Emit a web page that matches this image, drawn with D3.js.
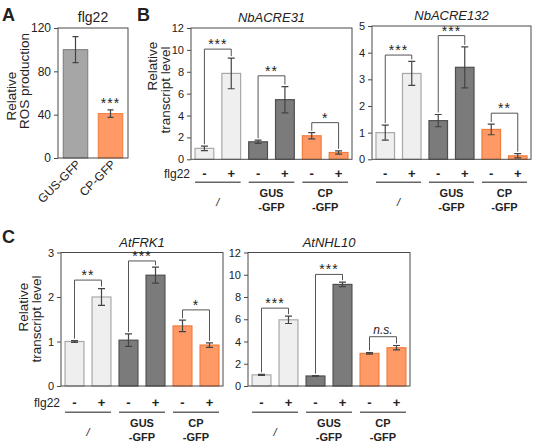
<!DOCTYPE html>
<html><head><meta charset="utf-8">
<script src="https://cdn.jsdelivr.net/npm/d3@7"></script>
<style>
body{margin:0;background:#fff}
svg{display:block}
text{font-family:"Liberation Sans",Arial,sans-serif;fill:#222}
</style>
</head><body>
<svg id="c" width="533" height="442"></svg>
<script>
// ---------- DATA ----------
const rosCategories = ["GUS-GFP", "CP-GFP"];
const rosValues = [100, 41];
const rosErrors = [12, 3.5];
const rosTicks = [0, 40, 80, 120];
const rosTitle = "flg22";

const treatments = ["-", "+", "-", "+", "-", "+"];
const barGroups = [0, 0, 1, 1, 2, 2];
const groupLabels = [["/"], ["GUS", "-GFP"], ["CP", "-GFP"]];

const nbacre31Values = [1.0, 7.85, 1.6, 5.45, 2.15, 0.62];
const nbacre31Errors = [0.2, 1.4, 0.15, 1.2, 0.28, 0.15];
const nbacre31Ticks = [0, 2, 4, 6, 8, 10, 12];
const nbacre31Sig = ["***", "**", "*"];
const nbacre31SigLevel = [10.07, 7.63, 3.35];

const nbacre132Values = [1.0, 3.22, 1.45, 3.45, 1.12, 0.13];
const nbacre132Errors = [0.28, 0.45, 0.23, 0.77, 0.2, 0.08];
const nbacre132Ticks = [0, 1, 2, 3, 4, 5];
const nbacre132Sig = ["***", "***", "**"];
const nbacre132SigLevel = [3.91, 4.64, 1.73];

const frk1Values = [1.0, 2.0, 1.03, 2.49, 1.35, 0.92];
const frk1Errors = [0.02, 0.19, 0.14, 0.18, 0.13, 0.05];
const frk1Ticks = [0, 1, 2, 3];
const frk1Sig = ["**", "***", "*"];
const frk1SigLevel = [2.38, 2.81, 1.71];

const nhl10Values = [1.0, 5.95, 0.9, 9.13, 2.93, 3.44];
const nhl10Errors = [0.05, 0.33, 0.03, 0.2, 0.07, 0.2];
const nhl10Ticks = [0, 2, 4, 6, 8, 10, 12];
const nhl10Sig = ["***", "***", "n.s."];
const nhl10SigLevel = [7.0, 10.03, 4.43];

// ---------- STYLE ----------
const groupFill = ["#efefef", "#7b7b7b", "#ff9a66"];
const groupStroke = ["#a8a8a8", "#4f4f4f", "#ef7d3e"];
const frameColor = "#4a4a4a";
const errColor = "#444";
const bracketColor = "#555";

const svg = d3.select("#c");

function yAxis(g, y, ticks, fs) {
  const ax = d3.axisLeft(y).tickValues(ticks).tickFormat(d3.format("d"))
    .tickSize(4).tickSizeOuter(0).tickPadding(3);
  g.call(ax);
  g.select(".domain").remove();
  g.selectAll(".tick line").attr("stroke", frameColor);
  g.selectAll(".tick text").attr("font-size", fs).attr("fill", "#222")
    .style("font-family", '"Liberation Sans",Arial,sans-serif');
}

function errorBars(g, x, y, values, errors, halfCap) {
  values.forEach((v, i) => {
    const cx = x(i) + x.bandwidth() / 2;
    const e = errors[i];
    const path = `M${cx - halfCap},${y(v + e)}H${cx + halfCap}M${cx},${y(v + e)}V${y(v - e)}M${cx - halfCap},${y(v - e)}H${cx + halfCap}`;
    g.append("path").attr("d", path).attr("stroke", errColor).attr("stroke-width", 1.2).attr("fill", "none");
  });
}

// ---------- PANEL A ----------
(function () {
  const x0 = 58, x1 = 128, yTop = 28, yZero = 158;
  const x = d3.scaleBand().domain(d3.range(rosCategories.length)).range([x0, x1]).paddingInner(0.3).paddingOuter(0.15);
  const y = d3.scaleLinear().domain([0, 120]).range([yZero, yTop]);
  const g = svg.append("g");
  const fills = ["#a6a6a6", "#ff9a66"], strokes = ["#7a7a7a", "#ef7d3e"];
  g.selectAll("rect.bar").data(rosValues).join("rect")
    .attr("x", (d, i) => x(i)).attr("y", d => y(d))
    .attr("width", x.bandwidth()).attr("height", d => yZero - y(d))
    .attr("fill", (d, i) => fills[i]).attr("stroke", (d, i) => strokes[i]).attr("stroke-width", 1);
  errorBars(g, x, y, rosValues, rosErrors, 3);
  g.append("rect").attr("x", x0).attr("y", yTop).attr("width", x1 - x0).attr("height", yZero - yTop)
    .attr("fill", "none").attr("stroke", frameColor).attr("stroke-width", 1);
  yAxis(g.append("g").attr("transform", `translate(${x0},0)`), y, rosTicks, 12);
  g.append("text").attr("x", (x0 + x1) / 2).attr("y", yTop - 6).attr("text-anchor", "middle")
    .attr("font-size", 14).text(rosTitle);
  const cx2 = x(1) + x.bandwidth() / 2;
  g.append("text").attr("x", cx2).attr("y", y(rosValues[1] + rosErrors[1]) - 2).attr("text-anchor", "middle")
    .attr("font-size", 14).attr("letter-spacing", 1).text("***");
  rosCategories.forEach((c, i) => {
    const cx = x(i) + x.bandwidth() / 2 + 6;
    g.append("text").attr("transform", `translate(${cx},${yZero + 7}) rotate(-45)`)
      .attr("text-anchor", "end").attr("font-size", 12).text(c);
  });
  g.append("text").attr("transform", "translate(16,96) rotate(-90)").attr("text-anchor", "middle")
    .attr("font-size", 13.5).text("Relative");
  g.append("text").attr("transform", "translate(29,81) rotate(-90)").attr("text-anchor", "middle")
    .attr("font-size", 13.5).text("ROS production");
  g.append("text").attr("x", 2).attr("y", 21).attr("font-size", 18).attr("font-weight", "bold").attr("fill", "#111").text("A");
})();

// ---------- GENERIC 6-BAR PANEL ----------
function panel(o) {
  const n = o.values.length;
  const x = d3.scaleBand().domain(d3.range(n)).range([o.x0, o.x1]).paddingInner(0.3).paddingOuter(0.15);
  const y = d3.scaleLinear().domain([0, o.max]).range([o.yZero, o.yTop]);
  const g = svg.append("g");
  g.selectAll("rect.bar").data(o.values).join("rect")
    .attr("x", (d, i) => x(i)).attr("y", d => y(d))
    .attr("width", x.bandwidth()).attr("height", d => o.yZero - y(d))
    .attr("fill", (d, i) => groupFill[barGroups[i]])
    .attr("stroke", (d, i) => groupStroke[barGroups[i]]).attr("stroke-width", 1.2);
  errorBars(g, x, y, o.values, o.errors, 3.5);
  g.append("rect").attr("x", o.x0).attr("y", o.yTop).attr("width", o.x1 - o.x0).attr("height", o.yZero - o.yTop)
    .attr("fill", "none").attr("stroke", frameColor).attr("stroke-width", 1);
  yAxis(g.append("g").attr("transform", `translate(${o.x0},0)`), y, o.ticks, 11);
  g.append("text").attr("x", (o.x0 + o.x1) / 2).attr("y", o.yTop - 6).attr("text-anchor", "middle")
    .attr("font-size", 13).attr("font-style", "italic").text(o.title);
  o.sig.forEach((s, k) => {
    const i = 2 * k, j = 2 * k + 1;
    const xi = x(i) + x.bandwidth() / 2, xj = x(j) + x.bandwidth() / 2;
    const yb = y(o.sigLevel[k]);
    const yi = y(o.values[i] + o.errors[i]) - 2, yj = y(o.values[j] + o.errors[j]) - 2;
    g.append("path").attr("d", `M${xi},${yi}V${yb}H${xj}V${yj}`)
      .attr("fill", "none").attr("stroke", bracketColor).attr("stroke-width", 1);
    const isNs = s === "n.s.";
    g.append("text").attr("x", (xi + xj) / 2).attr("y", yb - (isNs ? 3 : 0))
      .attr("text-anchor", "middle").attr("font-size", isNs ? 12 : 14)
      .attr("font-style", isNs ? "italic" : "normal")
      .attr("letter-spacing", isNs ? 0 : 1).attr("fill", "#333").text(s);
  });
  treatments.forEach((t, i) => {
    g.append("text").attr("x", x(i) + x.bandwidth() / 2).attr("y", o.rowY + 4.5)
      .attr("text-anchor", "middle").attr("font-size", 13).attr("font-weight", "bold").text(t);
  });
  if (o.showFlg) {
    g.append("text").attr("x", o.x0 - 1).attr("y", o.rowY + 4.5).attr("text-anchor", "end")
      .attr("font-size", 12).text("flg22");
  }
  groupLabels.forEach((lab, k) => {
    const xa = x(2 * k), xb = x(2 * k + 1) + x.bandwidth();
    g.append("line").attr("x1", xa).attr("x2", xb).attr("y1", o.lineY).attr("y2", o.lineY)
      .attr("stroke", "#666").attr("stroke-width", 1.5);
    const cx = (xa + xb) / 2;
    if (lab.length === 1) {
      g.append("text").attr("x", cx).attr("y", o.slashY + 4).attr("text-anchor", "middle")
        .attr("font-size", 11).attr("font-style", "italic").text(lab[0]);
    } else {
      lab.forEach((l, m) => {
        g.append("text").attr("x", cx).attr("y", (m === 0 ? o.lab1Y : o.lab2Y) + 4).attr("text-anchor", "middle")
          .attr("font-size", 11).attr("font-weight", "bold").text(l);
      });
    }
  });
  return g;
}

// ---------- PANEL B ----------
panel({x0: 191, x1: 352, yTop: 28, yZero: 159.3, max: 12, ticks: nbacre31Ticks,
  values: nbacre31Values, errors: nbacre31Errors, sig: nbacre31Sig, sigLevel: nbacre31SigLevel,
  title: "NbACRE31", rowY: 173, lineY: 182.3, lab1Y: 193, lab2Y: 207, slashY: 202, showFlg: true});
panel({x0: 372, x1: 531, yTop: 26, yZero: 159.3, max: 5, ticks: nbacre132Ticks,
  values: nbacre132Values, errors: nbacre132Errors, sig: nbacre132Sig, sigLevel: nbacre132SigLevel,
  title: "NbACRE132", rowY: 173, lineY: 182.3, lab1Y: 193, lab2Y: 207, slashY: 202, showFlg: false});
svg.append("text").attr("x", 137).attr("y", 21).attr("font-size", 18).attr("font-weight", "bold").attr("fill", "#111").text("B");
svg.append("text").attr("transform", "translate(157,66) rotate(-90)").attr("text-anchor", "middle")
  .attr("font-size", 13.5).text("Relative");
svg.append("text").attr("transform", "translate(170,90) rotate(-90)").attr("text-anchor", "middle")
  .attr("font-size", 13.5).text("transcript level");

// ---------- PANEL C ----------
panel({x0: 61, x1: 223, yTop: 252.5, yZero: 386, max: 3, ticks: frk1Ticks,
  values: frk1Values, errors: frk1Errors, sig: frk1Sig, sigLevel: frk1SigLevel,
  title: "AtFRK1", rowY: 402.7, lineY: 412.3, lab1Y: 423.3, lab2Y: 437.3, slashY: 432, showFlg: true});
panel({x0: 248, x1: 410, yTop: 252.5, yZero: 386, max: 12, ticks: nhl10Ticks,
  values: nhl10Values, errors: nhl10Errors, sig: nhl10Sig, sigLevel: nhl10SigLevel,
  title: "AtNHL10", rowY: 402.7, lineY: 412.3, lab1Y: 423.3, lab2Y: 437.3, slashY: 432, showFlg: false});
svg.append("text").attr("x", 2).attr("y", 243).attr("font-size", 18).attr("font-weight", "bold").attr("fill", "#111").text("C");
svg.append("text").attr("transform", "translate(28,307) rotate(-90)").attr("text-anchor", "middle")
  .attr("font-size", 13.5).text("Relative");
svg.append("text").attr("transform", "translate(41,319) rotate(-90)").attr("text-anchor", "middle")
  .attr("font-size", 13.5).text("transcript level");
</script>
</body></html>
